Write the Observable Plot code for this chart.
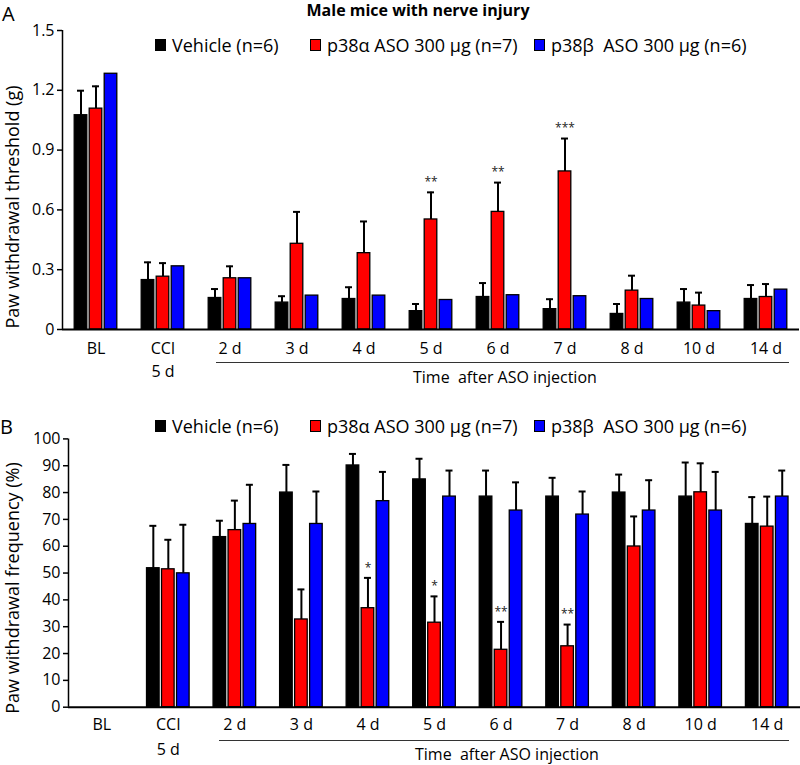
<!DOCTYPE html>
<html><head><meta charset="utf-8">
<script src="https://cdn.jsdelivr.net/npm/d3@7"></script>
<script src="https://cdn.jsdelivr.net/npm/@observablehq/plot@0.6"></script>
<style>
body{margin:0;background:#fff;font-family:"Open Sans",sans-serif;color:#000;}
#root{position:relative;width:800px;height:765px;overflow:hidden;background:#fff;}
.abs{position:absolute;white-space:pre;line-height:1;}
.panel{position:absolute;left:0;}
.legItem{position:absolute;height:20px;display:flex;align-items:center;font-size:18px;white-space:pre;line-height:1;}
.sw{box-sizing:border-box;width:11px;height:12px;border:1px solid #000;margin-right:6px;}
.bracket{position:absolute;border-top:1px solid #333;height:0;}
.ytitle{position:absolute;white-space:pre;line-height:1;font-size:18px;transform:translate(-50%,-50%) rotate(-90deg);}
</style></head><body><div id="root"></div>
<script>
// ---------- data ----------
const categories = ["BL","CCI","2 d","3 d","4 d","5 d","6 d","7 d","8 d","10 d","14 d"];
const tickLabels = ["BL","CCI","2 d","3 d","4 d","5 d","6 d","7 d","8 d","10 d","14 d"];
const tickSubLabels = ["","5 d","","","","","","","","",""];
const seriesNames = ["Vehicle (n=6)", "p38\u03b1 ASO 300 \u03bcg (n=7)", "p38\u03b2  ASO 300 \u03bcg (n=6)"];
const seriesColors = ["#000000", "#ff0000", "#0000ff"];

// Panel A: paw withdrawal threshold (g)
const thrVehicle    = [1.075,0.248,0.158,0.135,0.153,0.092,0.163,0.102,0.078,0.135,0.153];
const thrVehicleSem = [0.123,0.089,0.045,0.032,0.059,0.036,0.070,0.050,0.050,0.068,0.070];
const thrAlpha      = [1.108,0.265,0.257,0.430,0.383,0.552,0.590,0.793,0.195,0.120,0.163];
const thrAlphaSem   = [0.112,0.068,0.060,0.160,0.159,0.136,0.147,0.165,0.075,0.065,0.065];
const thrBeta       = [1.283,0.317,0.257,0.170,0.170,0.148,0.172,0.167,0.153,0.092,0.200];
const thrBetaSem    = [null,null,null,null,null,null,null,null,null,null,null];
const thrAlphaSig   = ["","","","","","**","**","***","","",""];
const thrTicks = [0,0.3,0.6,0.9,1.2,1.5];

// Panel B: paw withdrawal frequency (%)
const frqVehicle    = [null,51.8,63.4,80.0,90.1,84.9,78.5,78.5,80.0,78.5,68.3];
const frqVehicleSem = [null,15.8,6.1,10.3,4.3,7.7,9.7,7.0,6.7,12.7,10.0];
const frqAlpha      = [null,51.4,66.0,32.7,36.9,31.5,21.4,22.7,59.9,80.1,67.3];
const frqAlphaSem   = [null,11.0,11.0,11.2,11.3,9.8,10.4,8.1,11.2,10.8,11.2];
const frqBeta       = [null,49.9,68.3,68.3,76.8,78.5,73.3,71.8,73.3,73.3,78.5];
const frqBetaSem    = [null,18.1,14.6,12.1,10.9,9.7,10.5,8.6,11.3,14.4,9.7];
const frqAlphaSig   = ["","","","","*","*","**","**","","",""];
const frqTicks = [0,10,20,30,40,50,60,70,80,90,100];

const titleText = "Male mice with nerve injury";
const xTitle = "Time  after ASO injection";
const yTitleA = "Paw withdrawal threshold (g)";
const yTitleB = "Paw withdrawal frequency (%)";

// ---------- helpers ----------
function makeRows(means, sems, sigs) {
  const rows = [];
  means.forEach((arr, s) => {
    arr.forEach((v, i) => {
      if (v == null) return;
      const sem = sems[s][i];
      rows.push({cat: categories[i], s, value: v, sem, top: sem == null ? null : v + sem, sig: sigs[s] ? sigs[s][i] : ""});
    });
  });
  return rows;
}

function panel(cfg) {
  const {rows, yDomain, yTicks, tickFmt, width, height, mt, mb, ml, mr, dy1, dy2} = cfg;
  const step = (width - ml - mr) / categories.length;
  const barW = 12.6, gap = 15, capW = 7;
  const ins = (step - barW) / 2;
  const capIns = (step - capW) / 2;
  const marks = [];
  for (let k = 0; k < 3; k++) {
    const off = (k - 1) * gap;
    const sub = rows.filter(r => r.s === k);
    const withErr = sub.filter(r => r.top != null);
    marks.push(Plot.ruleX(withErr, {x: "cat", y1: "value", y2: "top", dx: off, stroke: "#000", strokeWidth: 2}));
    marks.push(Plot.tickY(withErr, {x: "cat", y: "top", dx: off, insetLeft: capIns, insetRight: capIns, stroke: "#000", strokeWidth: 2}));
    marks.push(Plot.barY(sub, {x: "cat", y: "value", dx: off, insetLeft: ins, insetRight: ins, fill: seriesColors[k], stroke: "#000", strokeWidth: 1.3}));
    marks.push(Plot.text(sub.filter(r => r.sig), {x: "cat", y: "top", text: "sig", dx: off, dy: -10, fontSize: 12, fill: "#222"}));
  }
  marks.push(Plot.ruleY([yDomain[0]], {stroke: "#000", strokeWidth: 2}));
  marks.push(Plot.ruleX([categories[0]], {x: d => d, y1: yDomain[0], y2: yDomain[1], dx: -step / 2, stroke: "#000", strokeWidth: 1.5}));
  marks.push(Plot.axisY({ticks: yTicks, tickFormat: tickFmt, tickSize: 5, tickPadding: 3, fontSize: 16, label: null, strokeWidth: 1.5}));
  marks.push(Plot.text(categories, {x: d => d, text: (d, i) => tickLabels[i], frameAnchor: "bottom", dy: dy1, fontSize: 16}));
  marks.push(Plot.text(categories, {x: d => d, text: (d, i) => tickSubLabels[i], frameAnchor: "bottom", dy: dy2, fontSize: 16}));
  return Plot.plot({
    width, height, marginTop: mt, marginBottom: mb, marginLeft: ml, marginRight: mr,
    style: {fontFamily: "Open Sans", fontSize: "16px", background: "transparent", overflow: "visible", color: "#000"},
    x: {type: "band", domain: categories, padding: 0, round: false, axis: null},
    y: {domain: yDomain},
    marks
  });
}

const root = document.getElementById("root");
function addDiv(cls, text, style) {
  const d = document.createElement("div");
  d.className = cls;
  if (text != null) d.textContent = text;
  Object.assign(d.style, style);
  root.appendChild(d);
  return d;
}

// Panel A
const svgA = panel({
  rows: makeRows([thrVehicle, thrAlpha, thrBeta], [thrVehicleSem, thrAlphaSem, thrBetaSem], [null, thrAlphaSig, null]),
  yDomain: [0, 1.5], yTicks: thrTicks, tickFmt: d => d === 0 ? "0" : d.toFixed(1),
  width: 800, height: 395, mt: 30, mb: 66, ml: 62, mr: 1, dy1: 24, dy2: 47.5
});
const wrapA = document.createElement("div");
wrapA.className = "panel"; wrapA.style.top = "0px";
wrapA.appendChild(svgA); root.appendChild(wrapA);

// Panel B
const svgB = panel({
  rows: makeRows([frqVehicle, frqAlpha, frqBeta], [frqVehicleSem, frqAlphaSem, frqBetaSem], [null, frqAlphaSig, null]),
  yDomain: [0, 100], yTicks: frqTicks, tickFmt: d => String(d),
  width: 800, height: 370, mt: 43.4, mb: 58.3, ml: 68, mr: 0, dy1: 23.2, dy2: 48
});
const wrapB = document.createElement("div");
wrapB.className = "panel"; wrapB.style.top = "395px";
wrapB.appendChild(svgB); root.appendChild(wrapB);

// Annotations
addDiv("abs", "A", {left: "2px", top: "4px", fontSize: "20px"});
addDiv("abs", "B", {left: "0px", top: "417px", fontSize: "20px"});
addDiv("abs", titleText, {left: "418px", top: "2px", fontSize: "16px", fontWeight: "700", transform: "translateX(-50%)"});

function legend(cy) {
  const xs = [155, 310, 534];
  seriesNames.forEach((name, k) => {
    const it = addDiv("legItem", null, {left: xs[k] + "px", top: (cy - 10) + "px"});
    const sw = document.createElement("div"); sw.className = "sw"; sw.style.background = seriesColors[k];
    const tx = document.createElement("span"); tx.textContent = name;
    it.appendChild(sw); it.appendChild(tx);
  });
}
legend(45);
legend(426);

addDiv("ytitle", yTitleA, {left: "12px", top: "207px"});
addDiv("ytitle", yTitleB, {left: "12px", top: "588px"});

addDiv("bracket", null, {left: "216px", width: "573px", top: "362px"});
addDiv("bracket", null, {left: "219px", width: "570px", top: "740px"});
addDiv("abs", xTitle, {left: "413px", top: "368.8px", fontSize: "16px"});
addDiv("abs", xTitle, {left: "415px", top: "746px", fontSize: "16px"});
</script>
</body></html>
